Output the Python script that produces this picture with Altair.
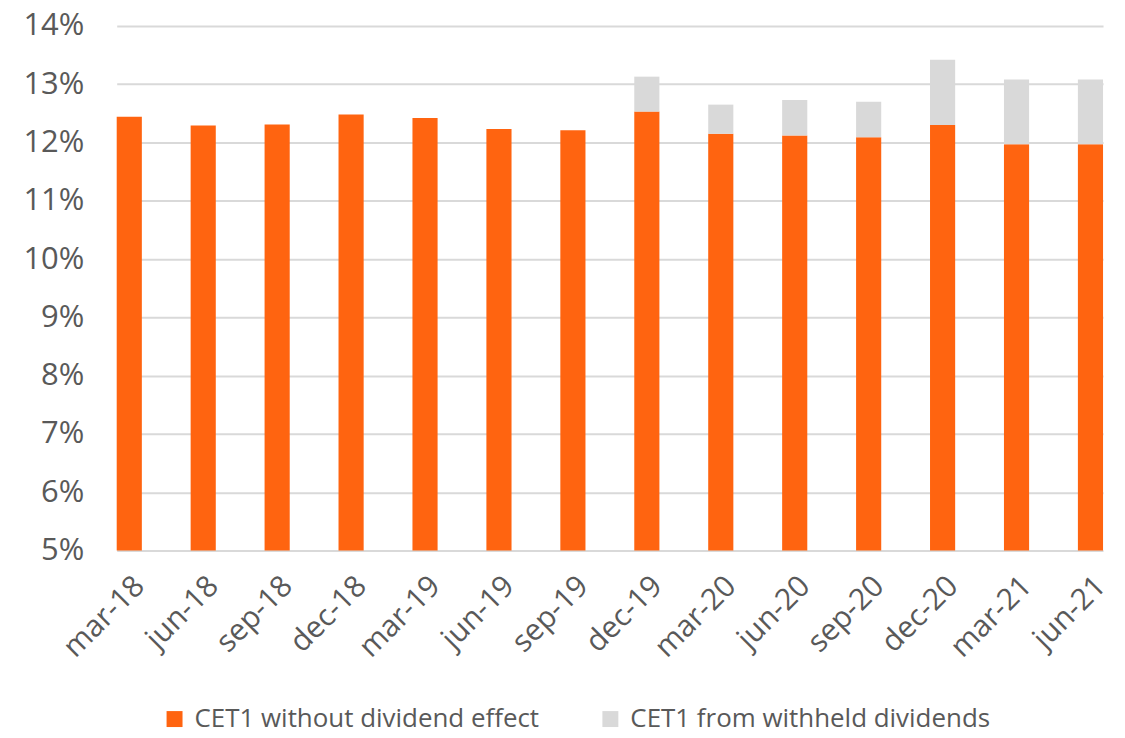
import altair as alt
import pandas as pd

quarters = ["mar-18", "jun-18", "sep-18", "dec-18", "mar-19", "jun-19", "sep-19",
            "dec-19", "mar-20", "jun-20", "sep-20", "dec-20", "mar-21", "jun-21"]
cet1_base = [12.44, 12.29, 12.31, 12.48, 12.42, 12.23, 12.21,
             12.53, 12.15, 12.12, 12.09, 12.30, 11.97, 11.97]
cet1_withheld = [0, 0, 0, 0, 0, 0, 0,
                 0.60, 0.50, 0.61, 0.61, 1.12, 1.11, 1.11]
series_names = ["CET1 without dividend effect", "CET1 from withheld dividends"]
series_colors = ["#FF6410", "#D9D9D9"]
axis_floor = 5

rows = []
for q, b, w in zip(quarters, cet1_base, cet1_withheld):
    rows.append({"q": q, "s": series_names[0], "y0": axis_floor, "y1": b})
    if w > 0:
        rows.append({"q": q, "s": series_names[1], "y0": b, "y1": b + w})
df = pd.DataFrame(rows)

FONT = "Open Sans"
chart = alt.Chart(df).mark_bar().encode(
    x=alt.X("q:N", sort=quarters, title=None,
            scale=alt.Scale(paddingInner=0.66, paddingOuter=0),
            axis=alt.Axis(labelAngle=315, labelFontSize=30, labelColor="#595959",
                          labelFont=FONT, ticks=False, domain=False, labelPadding=20)),
    y=alt.Y("y0:Q", title=None,
            scale=alt.Scale(domain=[5, 14], nice=False, zero=False),
            axis=alt.Axis(values=list(range(5, 15)), labelExpr="datum.value + '%'",
                          labelFontSize=31, labelColor="#595959", labelFont=FONT,
                          ticks=False, domain=False, labelPadding=33,
                          gridColor="#D9D9D9", gridWidth=2)),
    y2="y1:Q",
    color=alt.Color("s:N", title=None, sort=series_names,
                    scale=alt.Scale(domain=series_names, range=series_colors),
                    legend=alt.Legend(orient="none", legendX=45, legendY=682, direction="horizontal",
                                      symbolType="square", symbolSize=256, symbolStrokeWidth=0,
                                      labelFontSize=26, labelColor="#595959", labelFont=FONT,
                                      labelLimit=0, columnPadding=58, labelOffset=7)),
).properties(width=989, height=526, padding={"left": 14, "top": 1, "right": 5, "bottom": 4}
).configure_view(stroke=None)

chart.save("out.html", embed_options={"renderer": "svg", "actions": False})
